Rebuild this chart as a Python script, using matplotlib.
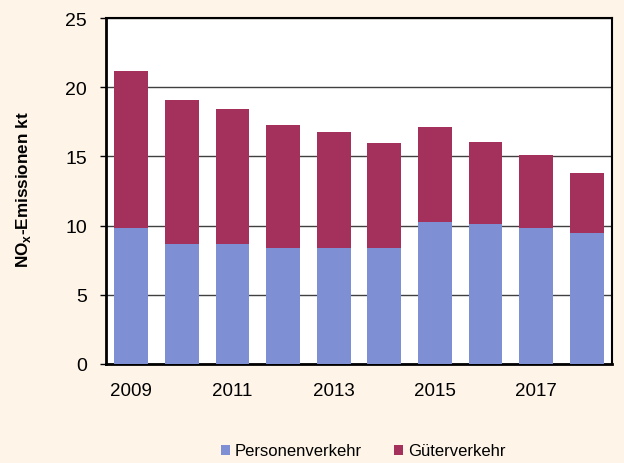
import matplotlib
matplotlib.use("Agg")
import matplotlib.pyplot as plt
import numpy as np

plt.rcParams['font.family'] = ['Liberation Sans', 'DejaVu Sans']

years = [2009, 2010, 2011, 2012, 2013, 2014, 2015, 2016, 2017, 2018]
personen = [9.8, 8.7, 8.65, 8.4, 8.35, 8.35, 10.25, 10.1, 9.85, 9.45]
total = [21.15, 19.1, 18.4, 17.25, 16.75, 16.0, 17.15, 16.05, 15.1, 13.8]
gueter = [t - p for t, p in zip(total, personen)]
tick_years = [2009, 2011, 2013, 2015, 2017]

bg = '#FEF5E8'
c_p = '#7F8FD3'
c_g = '#A3315C'

fig = plt.figure(figsize=(6.24, 4.64), dpi=100, facecolor=bg)
ax = fig.add_axes([106/624, 1 - 365/464, (612-106)/624, (365-19)/464])
ax.set_facecolor('white')

x = np.arange(len(years))
w = 0.67
ax.bar(x, personen, w, color=c_p, label='Personenverkehr', zorder=3)
ax.bar(x, gueter, w, bottom=personen, color=c_g, label='Güterverkehr', zorder=3)

ax.set_xlim(-0.5, len(years) - 0.5)
ax.set_ylim(0, 25)
ax.set_yticks([0, 5, 10, 15, 20, 25])
ax.yaxis.grid(True, color='#404040', lw=1, zorder=1)
ax.set_xticks([years.index(y) for y in tick_years])
ax.set_xticklabels([str(y) for y in tick_years])
ax.tick_params(axis='x', length=0, pad=13, labelsize=13.5)
ax.tick_params(axis='y', length=4.5, width=1, pad=9, labelsize=14, direction='out')
for s in ax.spines.values():
    s.set_color('black')
    s.set_linewidth(1.5)
ax.spines['left'].set_linewidth(2)
ax.spines['bottom'].set_linewidth(2)

fig.text(24/624, 1 - 190/464, 'NO$_\\mathregular{x}$-Emissionen kt', rotation=90,
         ha='center', va='center', fontsize=12.3, fontweight='bold')

fig.legend(loc='center', bbox_to_anchor=(363/624, 1 - 452/464), ncol=2, frameon=False,
           fontsize=12, handlelength=0.55, handleheight=0.55, columnspacing=1.9, handletextpad=0.3)

fig.savefig('out.png', dpi=100, facecolor=bg)
